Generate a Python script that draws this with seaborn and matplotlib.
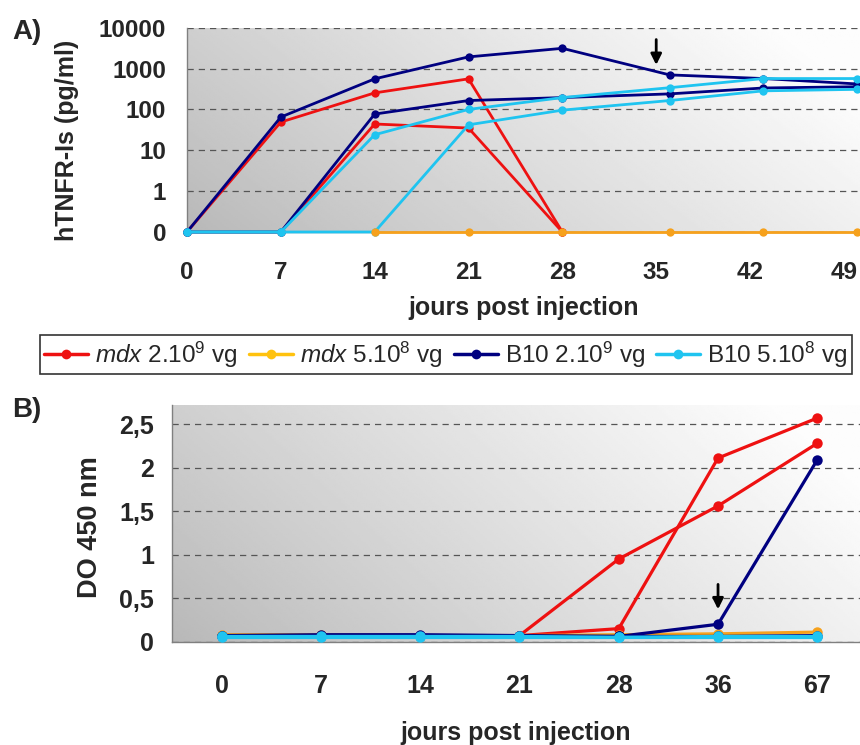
import numpy as np
import pandas as pd
import matplotlib
matplotlib.use("Agg")
import matplotlib.pyplot as plt
from matplotlib.lines import Line2D
import seaborn as sns

# --- donnees panneau A (hTNFR-Is, pg/ml ; 0 = non detecte) ---
jours_a = [0, 7, 14, 21, 28, 36, 43, 50]
mdx_2e9_s1 = [0, 49, 254, 560, 0, None, None, None]
mdx_2e9_s2 = [0, 0, 44, 35, 0, None, None, None]
mdx_5e8 = [None, None, 0, 0, 0, 0, 0, 0]
b10_2e9_s1 = [0, 65, 560, 1930, 3130, 700, 570, 420]
b10_2e9_s2 = [0, 0, 77, 165, 195, 240, 335, 360]
b10_5e8_s1 = [0, 0, 24, 100, 195, 340, 570, 570]
b10_5e8_s2 = [0, 0, 0, 42, 96, 165, 285, 310]

# --- donnees panneau B (DO 450 nm) ---
jours_b = ["0", "7", "14", "21", "28", "36", "67"]
do_mdx_2e9_s1 = [0.07, 0.07, 0.07, 0.07, 0.95, 1.56, 2.28]
do_mdx_2e9_s2 = [0.07, 0.07, 0.07, 0.07, 0.15, 2.11, 2.57]
do_mdx_5e8 = [0.08, 0.08, 0.07, 0.07, 0.08, 0.09, 0.11]
do_b10_2e9_s1 = [0.07, 0.08, 0.08, 0.07, 0.06, 0.20, 2.09]
do_b10_2e9_s2 = [0.06, 0.07, 0.07, 0.06, 0.06, 0.06, 0.07]
do_b10_5e8_s1 = [0.06, 0.06, 0.06, 0.06, 0.05, 0.06, 0.06]
do_b10_5e8_s2 = [0.05, 0.05, 0.05, 0.05, 0.05, 0.05, 0.05]

groupes = ["mdx 2.10^9", "mdx 5.10^8", "B10 2.10^9", "B10 5.10^8"]
labels = [r"$\mathit{mdx}$ 2.10$^{9}$ vg", r"$\mathit{mdx}$ 5.10$^{8}$ vg",
          r"B10 2.10$^{9}$ vg", r"B10 5.10$^{8}$ vg"]
couleurs = {"mdx 2.10^9": "#EE1111", "mdx 5.10^8": "#F6A11C",
            "B10 2.10^9": "#000080", "B10 5.10^8": "#1FC4F0"}
couleurs_leg = ["#EE1111", "#FFC20E", "#000080", "#1FC4F0"]


def long_form(jours, series):
    rows = []
    for groupe, souris, vals in series:
        for j, v in zip(jours, vals):
            if v is not None:
                rows.append({"jour": j, "val": v, "groupe": groupe, "souris": souris})
    return pd.DataFrame(rows)


df_a = long_form(jours_a, [
    ("mdx 2.10^9", 1, mdx_2e9_s1), ("mdx 2.10^9", 2, mdx_2e9_s2),
    ("mdx 5.10^8", 1, mdx_5e8),
    ("B10 2.10^9", 1, b10_2e9_s1), ("B10 2.10^9", 2, b10_2e9_s2),
    ("B10 5.10^8", 1, b10_5e8_s1), ("B10 5.10^8", 2, b10_5e8_s2)])
# 0 place au bas de l'echelle log (etiquette "0")
df_a["val_plot"] = df_a["val"].where(df_a["val"] > 0, 0.1)

df_b = long_form(jours_b, [
    ("mdx 2.10^9", 1, do_mdx_2e9_s1), ("mdx 2.10^9", 2, do_mdx_2e9_s2),
    ("mdx 5.10^8", 1, do_mdx_5e8),
    ("B10 2.10^9", 1, do_b10_2e9_s1), ("B10 2.10^9", 2, do_b10_2e9_s2),
    ("B10 5.10^8", 1, do_b10_5e8_s1), ("B10 5.10^8", 2, do_b10_5e8_s2)])
df_b["pos"] = df_b["jour"].map({j: i for i, j in enumerate(jours_b)})

sns.set_theme(style="white")
plt.rcParams["font.family"] = ["Liberation Sans", "DejaVu Sans"]
plt.rcParams["mathtext.fontset"] = "custom"
plt.rcParams["mathtext.rm"] = "Liberation Sans"
plt.rcParams["mathtext.it"] = "Liberation Sans:italic"

fig = plt.figure(figsize=(8.6, 7.45), dpi=100)

pos_a = [0.2174, 0.6886, 0.7826, 0.2742]
pos_b = [0.2, 0.1387, 0.8, 0.3177]


def fond(pos):
    bg = fig.add_axes(pos, zorder=0)
    xx, yy = np.meshgrid(np.linspace(0, 1, 300), np.linspace(0, 1, 200))
    v = 0.72 + 0.27 * np.clip(0.8 * xx + 0.3 * yy, 0, 1) ** 0.9
    bg.imshow(v, cmap="gray", vmin=0, vmax=1, origin="lower",
              extent=(0, 1, 0, 1), aspect="auto")
    bg.axis("off")


fond(pos_a)
fond(pos_b)
ax_a = fig.add_axes(pos_a, zorder=1)
ax_b = fig.add_axes(pos_b, zorder=1)
for ax in (ax_a, ax_b):
    ax.set_facecolor("none")

# --- panneau A ---
for g in ["mdx 2.10^9", "B10 2.10^9", "B10 5.10^8", "mdx 5.10^8"]:
    sns.lineplot(data=df_a[df_a["groupe"] == g], x="jour", y="val_plot",
                 units="souris", estimator=None, color=couleurs[g],
                 marker="o", markersize=6, markeredgewidth=0, lw=2,
                 ax=ax_a, legend=False, clip_on=False, zorder=3)
ax_a.set_yscale("log")
ax_a.set_ylim(0.1, 10000)
ax_a.set_xlim(0, 50.2)
ax_a.set_xticks(range(0, 50, 7))
ax_a.set_yticks([0.1, 1, 10, 100, 1000, 10000])
ax_a.set_yticklabels(["0", "1", "10", "100", "1000", "10000"])
ax_a.minorticks_off()
ax_a.grid(axis="y", linestyle=(0, (5, 4)), color="#555555", lw=0.9)
ax_a.tick_params(axis="x", length=6, color="#777777", pad=15, labelsize=17.5)
ax_a.tick_params(axis="y", length=5, color="#555555", pad=10, labelsize=17.5)
ax_a.set_xlabel("jours post injection", fontsize=18, fontweight="bold")
ax_a.set_ylabel("hTNFR-Is (pg/ml)", fontsize=18, fontweight="bold")
ax_a.xaxis.set_label_coords(0.5, -0.315)
ax_a.yaxis.set_label_coords(-0.16, 0.45)
ax_a.annotate("", xy=(35, 1050), xytext=(35, 6000),
              arrowprops=dict(arrowstyle="-|>", color="black", lw=2,
                              mutation_scale=16))

# --- panneau B ---
for g in ["mdx 2.10^9", "mdx 5.10^8", "B10 2.10^9", "B10 5.10^8"]:
    sns.lineplot(data=df_b[df_b["groupe"] == g], x="pos", y="val",
                 units="souris", estimator=None, color=couleurs[g],
                 marker="o", markersize=7.5, markeredgewidth=0, lw=2.3,
                 ax=ax_b, legend=False, clip_on=False, zorder=3)
ax_b.set_xlim(-0.5, 6.43)
ax_b.set_ylim(0, 2.72)
ax_b.set_xticks(range(len(jours_b)))
ax_b.set_xticklabels(jours_b)
ax_b.set_xticks(np.arange(-0.5, 6.5, 1), minor=True)
ax_b.set_yticks([0, 0.5, 1, 1.5, 2, 2.5])
ax_b.set_yticklabels(["0", "0,5", "1", "1,5", "2", "2,5"])
ax_b.grid(axis="y", linestyle=(0, (5, 4)), color="#555555", lw=0.9)
ax_b.tick_params(axis="x", which="major", length=0, pad=23, labelsize=18)
ax_b.tick_params(axis="x", which="minor", length=9, color="#777777", width=1)
ax_b.tick_params(axis="y", length=6, color="#555555", pad=7, labelsize=18)
ax_b.set_xlabel("jours post injection", fontsize=18, fontweight="bold")
ax_b.set_ylabel("DO 450 nm", fontsize=19.5, fontweight="bold")
ax_b.xaxis.set_label_coords(0.5, -0.335)
ax_b.yaxis.set_label_coords(-0.10, 0.485)
ax_b.annotate("", xy=(5, 0.34), xytext=(5, 0.69),
              arrowprops=dict(arrowstyle="-|>", color="black", lw=2,
                              mutation_scale=16))

for ax in (ax_a, ax_b):
    sns.despine(ax=ax)
    for s in ("left", "bottom"):
        ax.spines[s].set_color("#808080")
        ax.spines[s].set_linewidth(1)
    for t in ax.get_xticklabels() + ax.get_yticklabels():
        t.set_fontweight("bold")

fig.text(12 / 860, 1 - 32 / 745, "A)", fontsize=20, fontweight="bold", va="center")
fig.text(12 / 860, 1 - 410 / 745, "B)", fontsize=20, fontweight="bold", va="center")

handles = [Line2D([], [], color=c, marker="o", lw=2.5, markersize=7,
                  markeredgewidth=0) for c in couleurs_leg]
leg = fig.legend(handles, labels, loc="center", bbox_to_anchor=(0.5186, 0.5242),
                 ncol=4, fontsize=17.5, frameon=True, fancybox=False,
                 handlelength=1.8, handletextpad=0.3, columnspacing=0.45,
                 borderpad=0.2, borderaxespad=0)
leg.get_frame().set_edgecolor("black")
leg.get_frame().set_linewidth(1.2)

fig.savefig("out.png", dpi=100)
